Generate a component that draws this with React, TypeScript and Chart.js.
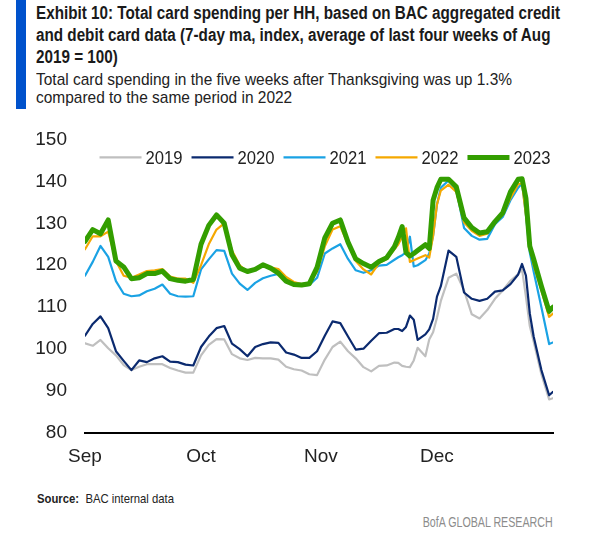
import React, { useEffect, useLayoutEffect, useRef } from 'react';
import { Chart, registerables } from 'chart.js';

Chart.register(...registerables);

const FONT = "'Liberation Sans Narrow', 'Liberation Sans', Arial, sans-serif";

// Day offsets from Sep 1
const days = [
  0, 2, 4, 6, 8, 10, 12, 14, 16, 18,
  20, 22, 24, 26, 28, 30, 32, 34, 36, 38,
  40, 42, 44, 46, 48, 50, 52, 54, 56, 58,
  60, 62, 64, 66, 68, 70, 72, 74, 76, 78,
  80, 81, 82, 83, 84, 85, 86, 88, 89, 90,
  91, 92, 94, 96, 98, 100, 102, 104, 106, 108,
  110, 112, 113, 114, 115, 116, 118, 120, 121,
];

const s2019 = [
  101.4, 100.8, 102.2, 100.2, 98.5, 96.2, 95, 95.8, 96.4, 96.4,
  96.4, 95.5, 94.9, 94.4, 94.4, 98.5, 101, 102.4, 102.3, 98.8,
  97.8, 97.4, 97.9, 97.8, 97.8, 97.5, 95.8, 95.2, 94.9, 94,
  93.8, 97.5, 100.5, 101.8, 99.5, 97.8, 95.7, 94.7, 96, 96.1,
  96.8, 96.7, 96, 95.8, 95.7, 97.3, 100.3, 98.3, 102.3, 104,
  107.5, 111.5, 117, 118, 114, 108.3, 107.3, 109.3, 112, 114,
  116.3, 117.9, 119, 112.5, 105.5, 101.8, 94, 88, 88.3,
];

const s2020 = [
  103.2, 106, 107.8, 105, 99.5, 97.2, 95, 97.3, 96.9, 97.8,
  98.3, 97, 96.9, 96.3, 96.1, 100.5, 103, 105, 105.5, 101.3,
  100, 98.3, 100.5, 101.2, 101.6, 101.5, 99.2, 98.7, 97.9, 97.9,
  99.5, 103.2, 106.6, 106.2, 103, 99.9, 100.1, 102, 103.8, 103.9,
  104.8, 104.8, 104.3, 105.3, 108, 107, 102.2, 103.5, 104.7, 107.2,
  112.5, 115, 123.5, 122, 113.5, 112, 111.5, 112, 113.7, 114,
  115.5, 117.8, 120.3, 117.5, 108.5, 103, 95, 89, 89.8,
];

const s2021 = [
  117.5, 120.8, 124.6, 122, 116.2, 113.2, 112.6, 112.8, 113.8, 114.4,
  115.4, 113.2, 112.6, 112.5, 112.6, 119, 121.4, 123.6, 123.4, 118,
  115.6, 114.1, 115.8, 116.9, 117.5, 117.9, 116.3, 115.3, 115.1, 115.3,
  117, 122.8, 124, 125, 121.5, 118.8, 118.2, 118.8, 119.9, 120.1,
  121.3, 121.9, 122.4, 123, 126.8, 119.7, 120, 121.2, 122.8, 127,
  134.5, 138.5, 140.2, 138, 128.9, 127, 126.1, 126.3, 129.8, 131.5,
  135.5, 138.5, 139.5, 132, 123, 118.5, 110, 101.2, 101.6,
];

const s2022 = [
  123.8, 126.9, 126.9, 128, 121, 117.5, 117, 117.8, 118.6, 118.8,
  119.1, 117.3, 116.8, 116.8, 115.8, 120, 125, 128.5, 130, 123.5,
  120, 118.5, 119.2, 119.8, 119.5, 119.1, 117.2, 116, 115.5, 115.7,
  118.5, 124.5, 128.5, 129.3, 125, 121, 119, 117.8, 120.5, 121.5,
  123.8, 125, 126.8, 128.8, 120.8, 121.2, 121.6, 122.4, 121.8, 127,
  134.5, 137.8, 139.2, 137.5, 130.2, 128.2, 127, 127.5, 130.5, 132,
  136, 139.3, 139.5, 132, 124.5, 120, 114, 107.7, 108.5,
];

const s2023 = [
  125.7, 128.5, 127.5, 130.8, 121, 119.6, 116.8, 117, 118, 118,
  118.6, 116.8, 116.4, 116.2, 116.6, 125, 129.5, 132, 130, 122.5,
  119.3, 118.5, 119, 120.1, 119.3, 118.1, 116.2, 115.4, 115.3, 115.6,
  119.5, 126.5, 130, 130.8, 125.5, 121.5, 120.4, 119.5, 120.9, 121.8,
  124.4, 126.6, 129.2, 123, 122.2, 122.8, 123.5, 124.9, 124, 135.5,
  138.5, 140.5, 140.5, 138.7, 131.3, 129, 127.7, 128, 130.4, 132.5,
  137.5, 140.5, 140.6, 136, 124.5, 121.5, 115, 109, 110,
];

const seriesLabels = ['2019', '2020', '2021', '2022', '2023'];
const seriesColors = ['#bfbfbf', '#0b2a6f', '#1aa2e4', '#f5a800', '#339e00'];
const seriesWidths = [2.2, 2.2, 2.2, 2.2, 5];

const monthTickDays = [0, 30, 61, 91];
const monthLabels = ['Sep', 'Oct', 'Nov', 'Dec'];
const yTicks = [80, 90, 100, 110, 120, 130, 140, 150];

const legendPlugin = {
  id: 'lineLegend',
  afterDatasetsDraw(chart: any) {
    const { ctx, chartArea } = chart;
    ctx.save();
    ctx.font = `19px ${FONT}`;
    const squeeze = 0.875;
    const sample = 42;
    const gap = 4;
    const spacing = 9;
    const items = chart.data.datasets.map((ds: any) => ({
      label: ds.label as string,
      color: ds.borderColor as string,
      lw: ds.borderWidth as number,
      tw: (ctx.measureText(ds.label).width as number) * squeeze,
    }));
    const total =
      items.reduce((s: number, it: any) => s + sample + gap + it.tw, 0) +
      spacing * (items.length - 1);
    let x = chartArea.left + chartArea.width / 2 + 6 - total / 2;
    const y = chartArea.top + 18;
    for (const it of items) {
      ctx.beginPath();
      ctx.strokeStyle = it.color;
      ctx.lineWidth = it.lw;
      ctx.lineCap = 'butt';
      ctx.moveTo(x, y);
      ctx.lineTo(x + sample, y);
      ctx.stroke();
      ctx.save();
      ctx.translate(x + sample + gap, y + 1);
      ctx.scale(squeeze, 1);
      ctx.fillStyle = '#222';
      ctx.textBaseline = 'middle';
      ctx.textAlign = 'left';
      ctx.fillText(it.label, 0, 0);
      ctx.restore();
      x += sample + gap + it.tw + spacing;
    }
    ctx.restore();
  },
};

export default function App() {
  const canvasRef = useRef<HTMLCanvasElement>(null);
  const titleRef = useRef<HTMLDivElement>(null);
  const titleLine1 = useRef<HTMLSpanElement>(null);
  const subRef = useRef<HTMLDivElement>(null);
  const subLine1 = useRef<HTMLSpanElement>(null);
  const srcRef = useRef<HTMLDivElement>(null);
  const bofaRef = useRef<HTMLDivElement>(null);

  useLayoutEffect(() => {
    const fit = (block: HTMLElement | null, line: HTMLElement | null, target: number) => {
      if (!block || !line) return;
      const w = line.getBoundingClientRect().width;
      if (w > 0) {
        block.style.transform = `scaleX(${target / w})`;
      }
    };
    fit(titleRef.current, titleLine1.current, 524);
    fit(subRef.current, subLine1.current, 476);
    fit(srcRef.current, srcRef.current, 137);
    fit(bofaRef.current, bofaRef.current, 130);
  }, []);

  useEffect(() => {
    if (!canvasRef.current) return;
    const series = [s2019, s2020, s2021, s2022, s2023];
    const chart = new Chart(canvasRef.current, {
      type: 'line',
      data: {
        datasets: series.map((vals, i) => ({
          label: seriesLabels[i],
          data: vals.map((v, j) => ({ x: days[j], y: v })),
          borderColor: seriesColors[i],
          backgroundColor: seriesColors[i],
          borderWidth: seriesWidths[i],
          pointRadius: 0,
          tension: 0,
          order: 4 - i,
          borderJoinStyle: 'round' as const,
          borderCapStyle: 'round' as const,
        })),
      },
      options: {
        animation: false,
        responsive: false,
        maintainAspectRatio: false,
        layout: { padding: { top: 25, right: 41, left: 0, bottom: 0 } },
        plugins: { legend: { display: false }, tooltip: { enabled: false } },
        scales: {
          x: {
            type: 'linear',
            min: 0,
            max: 121,
            grid: { display: false, drawTicks: false },
            border: { display: true, color: '#000', width: 2 },
            afterBuildTicks: (s: any) => {
              s.ticks = monthTickDays.map((v) => ({ value: v }));
            },
            afterFit: (s: any) => {
              s.height = 57;
            },
            ticks: {
              autoSkip: false,
              maxRotation: 0,
              padding: 12,
              color: '#222',
              font: { family: FONT, size: 19 },
              callback: (v: any) => {
                const i = monthTickDays.indexOf(Number(v));
                return i >= 0 ? monthLabels[i] : '';
              },
            },
          },
          y: {
            type: 'linear',
            min: 80,
            max: 150,
            grid: { display: false, drawTicks: false },
            border: { display: false },
            afterBuildTicks: (s: any) => {
              s.ticks = yTicks.map((v) => ({ value: v }));
            },
            afterFit: (s: any) => {
              s.width = 85;
            },
            ticks: {
              padding: 18,
              color: '#222',
              font: { family: FONT, size: 19 },
            },
          },
        },
      },
      plugins: [legendPlugin],
    } as any);
    return () => chart.destroy();
  }, []);

  return (
    <div
      style={{
        position: 'absolute',
        left: 0,
        top: 0,
        width: 594,
        height: 533,
        background: '#fff',
        overflow: 'hidden',
        fontFamily: FONT,
      }}
    >
      <div style={{ position: 'absolute', left: 16, top: 0, width: 10, height: 109, background: '#0052cc' }} />
      <div
        ref={titleRef}
        style={{
          position: 'absolute',
          left: 36,
          top: 2.3,
          fontWeight: 700,
          fontSize: 18,
          lineHeight: '22px',
          color: '#1a1a1a',
          whiteSpace: 'nowrap',
          transformOrigin: 'left top',
        }}
      >
        <span ref={titleLine1}>Exhibit 10: Total card spending per HH, based on BAC aggregated credit</span>
        <br />
        <span>and debit card data (7-day ma, index, average of last four weeks of Aug</span>
        <br />
        <span>2019 = 100)</span>
      </div>
      <div
        ref={subRef}
        style={{
          position: 'absolute',
          left: 36,
          top: 70.5,
          fontSize: 17,
          lineHeight: '18.5px',
          color: '#222',
          whiteSpace: 'nowrap',
          transformOrigin: 'left top',
        }}
      >
        <span ref={subLine1}>Total card spending in the five weeks after Thanksgiving was up 1.3%</span>
        <br />
        <span>compared to the same period in 2022</span>
      </div>
      <canvas
        ref={canvasRef}
        width={594}
        height={380}
        style={{ position: 'absolute', left: 0, top: 110, width: 594, height: 380 }}
      />
      <div
        ref={srcRef}
        style={{
          position: 'absolute',
          left: 37,
          top: 491,
          fontSize: 13,
          lineHeight: '16px',
          color: '#222',
          whiteSpace: 'nowrap',
          transformOrigin: 'left top',
        }}
      >
        <b>Source:</b>&nbsp; BAC internal data
      </div>
      <div
        ref={bofaRef}
        style={{
          position: 'absolute',
          right: 41,
          top: 514,
          fontSize: 14,
          lineHeight: '16px',
          color: '#8c8c8c',
          whiteSpace: 'nowrap',
          transformOrigin: 'right top',
        }}
      >
        BofA GLOBAL RESEARCH
      </div>
    </div>
  );
}
